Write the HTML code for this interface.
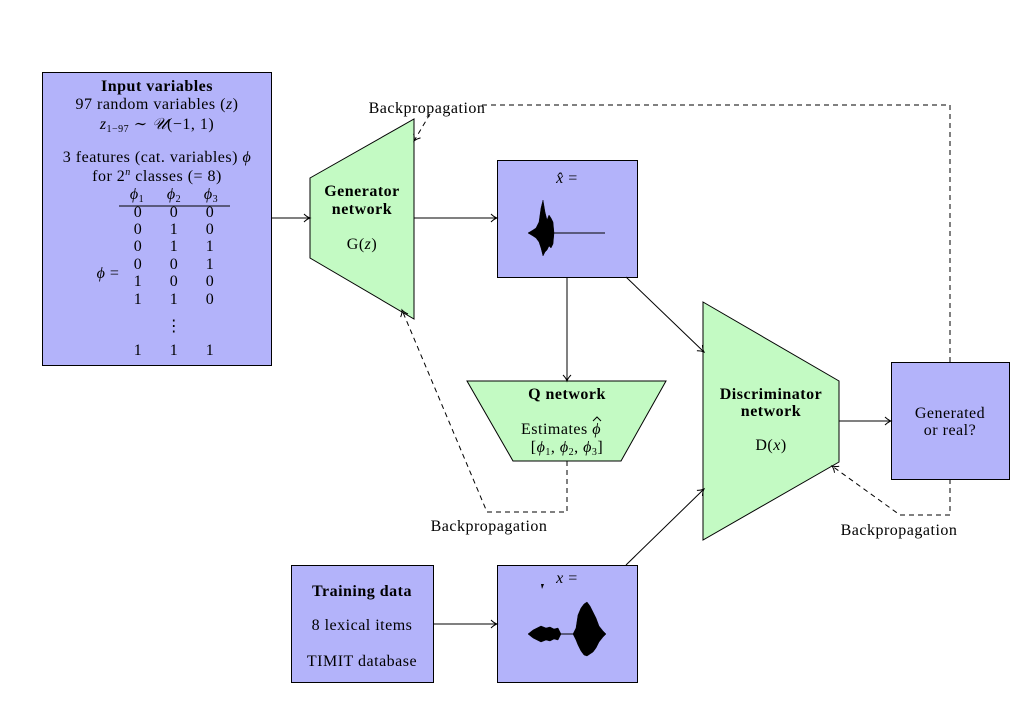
<!DOCTYPE html>
<html><head><meta charset="utf-8"><style>
body{margin:0;background:#fff}
svg{display:block}
text{font-family:"Liberation Serif","DejaVu Serif",serif;font-size:16px;letter-spacing:0.5px;fill:#000}
.b{font-weight:bold}
.i{font-style:italic}
</style></head><body>
<svg width="1024" height="710" viewBox="0 0 1024 710" xmlns="http://www.w3.org/2000/svg">
<defs>
<marker id="a" markerWidth="10" markerHeight="10" refX="8" refY="5" orient="auto" markerUnits="userSpaceOnUse">
<path d="M2,1 Q5,4 8,5 Q5,6 2,9" fill="none" stroke="#000" stroke-width="1"/>
</marker>
</defs>
<g stroke="#000" stroke-width="1">
<rect x="42.5" y="72.5" width="229" height="293" fill="#b3b3fa"/>
<polygon points="310,178 414,119 414,319 310,258" fill="#c3fac3"/>
<rect x="497.5" y="160.5" width="140" height="117" fill="#b3b3fa"/>
<polygon points="467,381 666,381 621,461 513,461" fill="#c3fac3"/>
<polygon points="703,302 839,381 839,462 703,540" fill="#c3fac3"/>
<rect x="891.5" y="362.5" width="118" height="117" fill="#b3b3fa"/>
<rect x="291.5" y="565.5" width="142" height="117" fill="#b3b3fa"/>
<rect x="497.5" y="565.5" width="140" height="117" fill="#b3b3fa"/>
</g>
<g stroke="#000" stroke-width="1" fill="none" marker-end="url(#a)">
<line x1="271" y1="218" x2="310" y2="218"/>
<line x1="414" y1="218" x2="497" y2="218"/>
<line x1="567" y1="277" x2="567" y2="381"/>
<line x1="626" y1="277" x2="704" y2="352"/>
<line x1="626" y1="565" x2="704" y2="489"/>
<line x1="839" y1="421" x2="891" y2="421"/>
<line x1="433" y1="624" x2="497" y2="624"/>
</g>
<g stroke="#000" stroke-width="1" fill="none" stroke-dasharray="5,4">
<polyline points="950,362 950,105 480,105"/>
</g>
<g stroke="#000" stroke-width="1" fill="none" stroke-dasharray="5,4" marker-end="url(#a)">
<polyline points="567,461 567,512 487,512 402,310"/>
<polyline points="950,479 950,515 900,515 832,466"/>
<line x1="430" y1="114" x2="414" y2="141"/>
</g>
<text x="427" y="113" text-anchor="middle">Backpropagation</text>
<text x="489" y="531" text-anchor="middle">Backpropagation</text>
<text x="899" y="535" text-anchor="middle">Backpropagation</text>

<g text-anchor="middle">
<text x="157" y="91" class="b">Input variables</text>
<text x="157" y="109">97 random variables (<tspan class="i">z</tspan>)</text>
<text x="157" y="129"><tspan class="i">z</tspan><tspan font-size="10" dy="3">1−97</tspan><tspan dy="-3"> ∼ </tspan><tspan class="i">𝒰</tspan>(−1, 1)</text>
<text x="157" y="162">3 features (cat. variables) <tspan class="i">ϕ</tspan></text>
<text x="157" y="181">for 2<tspan font-size="10" dy="-6" class="i">n</tspan><tspan dy="6"> classes (= 8)</tspan></text>
<text x="137" y="199" class="i">ϕ<tspan font-size="10" dy="3" font-style="normal">1</tspan></text>
<text x="174" y="199" class="i">ϕ<tspan font-size="10" dy="3" font-style="normal">2</tspan></text>
<text x="211" y="199" class="i">ϕ<tspan font-size="10" dy="3" font-style="normal">3</tspan></text>
<text x="138" y="217">0</text><text x="174" y="217">0</text><text x="210" y="217">0</text>
<text x="138" y="234">0</text><text x="174" y="234">1</text><text x="210" y="234">0</text>
<text x="138" y="251">0</text><text x="174" y="251">1</text><text x="210" y="251">1</text>
<text x="138" y="269">0</text><text x="174" y="269">0</text><text x="210" y="269">1</text>
<text x="138" y="286">1</text><text x="174" y="286">0</text><text x="210" y="286">0</text>
<text x="138" y="304">1</text><text x="174" y="304">1</text><text x="210" y="304">0</text>
<text x="174" y="331">⋮</text>
<text x="138" y="355">1</text><text x="174" y="355">1</text><text x="210" y="355">1</text>
<text x="108" y="278"><tspan class="i">ϕ</tspan> =</text>
</g>
<line x1="119" y1="206" x2="230" y2="206" stroke="#000" stroke-width="1"/>

<g text-anchor="middle">
<text x="362" y="196" class="b">Generator</text>
<text x="362" y="214" class="b">network</text>
<text x="362" y="249">G(<tspan class="i">z</tspan>)</text>
<text x="567" y="183"><tspan class="i">x̂</tspan> =</text>
<text x="567" y="399" class="b">Q network</text>
<text x="561" y="434">Estimates <tspan class="i">ϕ</tspan></text>
<text x="567" y="452">[<tspan class="i">ϕ</tspan><tspan font-size="10" dy="3">1</tspan><tspan dy="-3">, </tspan><tspan class="i">ϕ</tspan><tspan font-size="10" dy="3">2</tspan><tspan dy="-3">, </tspan><tspan class="i">ϕ</tspan><tspan font-size="10" dy="3">3</tspan><tspan dy="-3">]</tspan></text>
<text x="771" y="399" class="b">Discriminator</text>
<text x="771" y="416" class="b">network</text>
<text x="771" y="450">D(<tspan class="i">x</tspan>)</text>
<text x="950" y="418">Generated</text>
<text x="950" y="435">or real?</text>
<text x="362" y="596" class="b">Training data</text>
<text x="362" y="630">8 lexical items</text>
<text x="362" y="666">TIMIT database</text>
<text x="567" y="583"><tspan class="i">x</tspan> =</text>
</g>
<path d="M593,421 L597,417 L601,421" fill="none" stroke="#000" stroke-width="1"/>
<path d="M541,584 l3,0 l-2,5 z" fill="#000"/>

<g stroke="#000" fill="#000">
<line x1="528" y1="233" x2="605" y2="233" stroke-width="1"/>
<path d="M528,233 L533,230 L536,228 L539,222 L541,208 L543,200 L545,212 L547,220 L549,215 L551,218 L553,222 L554,233 L553,244 L551,248 L549,246 L547,250 L545,252 L543,256 L541,248 L539,242 L536,238 L533,236 Z" stroke-width="0.5"/>
</g>
<g stroke="#000" fill="#000">
<line x1="528" y1="634" x2="606" y2="634" stroke-width="1"/>
<path d="M528,634 L533,630 L537,628 L541,626 L546,628 L550,627 L554,629 L558,628 L561,634 L558,640 L554,639 L550,641 L546,640 L541,642 L537,640 L533,638 Z" stroke-width="0.5"/>
<path d="M573,634 L576,628 L578,615 L581,608 L584,604 L587,602 L590,606 L593,612 L596,618 L599,626 L603,631 L606,634 L603,637 L599,642 L596,648 L593,652 L590,654 L587,656 L584,655 L581,651 L578,645 L576,640 Z" stroke-width="0.5"/>
</g>
</svg>
</body></html>
